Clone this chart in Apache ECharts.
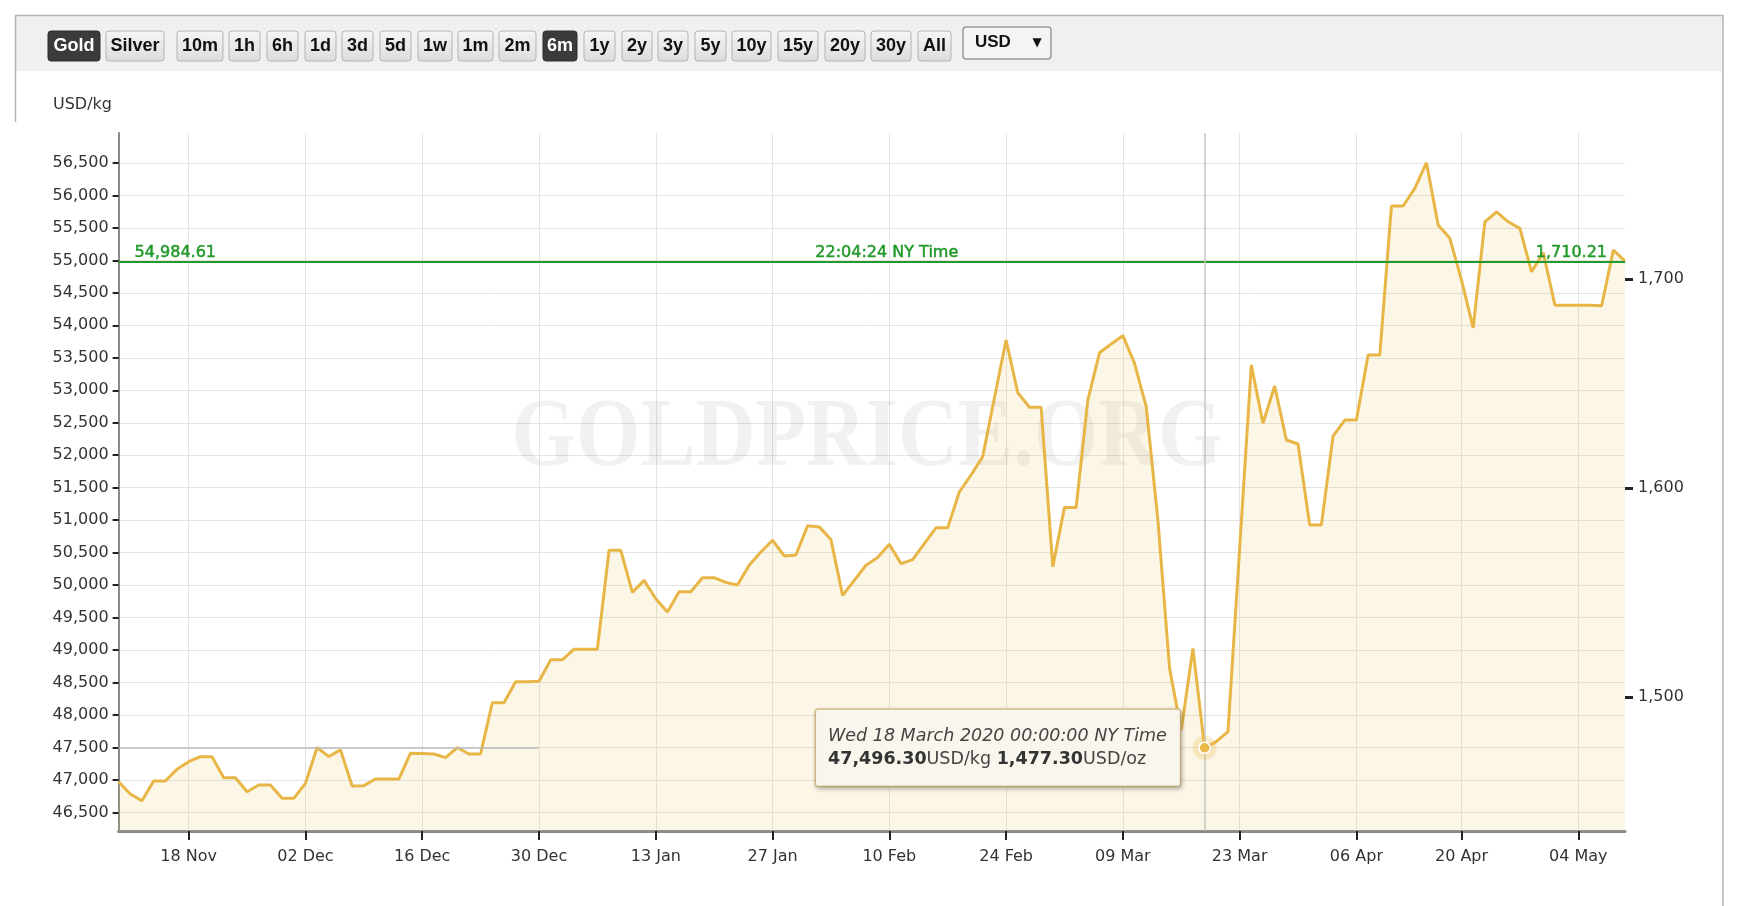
<!DOCTYPE html>
<html>
<head>
<meta charset="utf-8">
<script src="https://cdn.jsdelivr.net/npm/echarts@6/dist/echarts.min.js"></script>
<style>
html,body{margin:0;padding:0;background:#ffffff;}
#chart{width:1738px;height:906px;}
</style>
</head>
<body>
<div id="chart"></div>
<script>
// ---------- DATA ----------
const dates = [
 '2019-11-08','2019-11-11','2019-11-12','2019-11-13','2019-11-14','2019-11-15','2019-11-18','2019-11-19','2019-11-20','2019-11-21','2019-11-22',
 '2019-11-25','2019-11-26','2019-11-27','2019-11-28','2019-11-29','2019-12-02','2019-12-03','2019-12-04','2019-12-05','2019-12-06',
 '2019-12-09','2019-12-10','2019-12-11','2019-12-12','2019-12-13','2019-12-16','2019-12-17','2019-12-18','2019-12-19','2019-12-20',
 '2019-12-23','2019-12-24','2019-12-25','2019-12-26','2019-12-27','2019-12-30','2019-12-31','2020-01-01','2020-01-02','2020-01-03',
 '2020-01-06','2020-01-07','2020-01-08','2020-01-09','2020-01-10','2020-01-13','2020-01-14','2020-01-15','2020-01-16','2020-01-17',
 '2020-01-20','2020-01-21','2020-01-22','2020-01-23','2020-01-24','2020-01-27','2020-01-28','2020-01-29','2020-01-30','2020-01-31',
 '2020-02-03','2020-02-04','2020-02-05','2020-02-06','2020-02-07','2020-02-10','2020-02-11','2020-02-12','2020-02-13','2020-02-14',
 '2020-02-17','2020-02-18','2020-02-19','2020-02-20','2020-02-21','2020-02-24','2020-02-25','2020-02-26','2020-02-27','2020-02-28',
 '2020-03-02','2020-03-03','2020-03-04','2020-03-05','2020-03-06','2020-03-09','2020-03-10','2020-03-11','2020-03-12','2020-03-13',
 '2020-03-16','2020-03-17','2020-03-18','2020-03-19','2020-03-20','2020-03-23','2020-03-24','2020-03-25','2020-03-26','2020-03-27',
 '2020-03-30','2020-03-31','2020-04-01','2020-04-02','2020-04-03','2020-04-06','2020-04-07','2020-04-08','2020-04-09',
 '2020-04-13','2020-04-14','2020-04-15','2020-04-16','2020-04-17','2020-04-20','2020-04-21','2020-04-22','2020-04-23','2020-04-24',
 '2020-04-27','2020-04-28','2020-04-29','2020-04-30','2020-05-01','2020-05-04','2020-05-05','2020-05-06','2020-05-07','2020-05-08'
];
const pricesKg = [
 46974,46784,46682,46984,46984,47164,47282,47359,47359,47036,47036,
 46820,46923,46923,46718,46718,46949,47500,47361,47464,46907,
 46913,47015,47015,47015,47413,47410,47400,47344,47500,47400,
 47400,48190,48190,48513,48513,48520,48850,48850,49014,49014,
 49014,50537,50537,49889,50074,49791,49585,49899,49899,50115,
 50115,50043,50002,50306,50511,50691,50450,50465,50913,50897,
 50702,49843,50074,50306,50424,50630,50331,50393,50640,50882,
 50882,51437,51696,51978,52880,53774,52963,52738,52738,50284,
 51197,51197,52850,53579,53713,53841,53415,52748,51003,48719,
 47770,49027,47496.30,47590,47744,50560,53390,52492,53066,52234,
 52173,50926,50926,52296,52542,52542,53543,53543,55837,
 55837,56109,56504,55544,55339,54697,53962,55594,55748,55594,
 55492,54824,55117,54311,54311,54311,54311,54301,55158,54990
];
const leftTicks = [46500,47000,47500,48000,48500,49000,49500,50000,50500,51000,51500,52000,52500,53000,53500,54000,54500,55000,55500,56000,56500];
const rightTicks = [1500,1600,1700];
const xTickDates = ['2019-11-18','2019-12-02','2019-12-16','2019-12-30','2020-01-13','2020-01-27','2020-02-10','2020-02-24','2020-03-09','2020-03-23','2020-04-06','2020-04-20','2020-05-04'];
const monthShort = ['Jan','Feb','Mar','Apr','May','Jun','Jul','Aug','Sep','Oct','Nov','Dec'];
const spotKg = 54984.61;
const spotOz = 1710.21;
const spotTime = '22:04:24 NY Time';
const hoverDate = '2020-03-18';
const hoverText = 'Wed 18 March 2020 00:00:00 NY Time';
const hoverOz = 1477.30;
const hiddenLineValue = 47500;
const hiddenLineEnd = '2019-12-30';
const unitLabel = 'USD/kg';
const metalButtons = ['Gold','Silver'];
const rangeButtons = ['10m','1h','6h','1d','3d','5d','1w','1m','2m','6m','1y','2y','3y','5y','10y','15y','20y','30y','All'];
const activeButtons = ['Gold','6m'];
const currency = 'USD';

// ---------- LAYOUT (pixels) ----------
const buttonLayout = {
 'Gold':[48,100],'Silver':[106,164],'10m':[177,223],'1h':[229,260],'6h':[267,298],'1d':[305,336],'3d':[342,373],
 '5d':[380,411],'1w':[418,452],'1m':[458,493],'2m':[499,536],'6m':[543,577],'1y':[584,615],'2y':[622,652],
 '3y':[658,688],'5y':[695,726],'10y':[732,771],'15y':[778,818],'20y':[825,865],'30y':[871,911],'All':[918,951]
};

const fmt0 = v => Math.round(v).toLocaleString('en-US');
const fmt2 = v => v.toLocaleString('en-US',{minimumFractionDigits:2,maximumFractionDigits:2});
const tickSet = new Set(xTickDates);
const showTick = (idx, val) => tickSet.has(val);
const hoverIdx = dates.indexOf(hoverDate);

const chart = echarts.init(document.getElementById('chart'), null, {renderer:'canvas'});

const graphics = [];
graphics.push({type:'rect', z:0, shape:{x:16,y:16,width:1706,height:55}, style:{fill:'#f0f0f0'}});
graphics.push({type:'line', z:5, shape:{x1:15,y1:15.5,x2:1723,y2:15.5}, style:{stroke:'#b5b5b5',lineWidth:1.5}});
graphics.push({type:'line', z:5, shape:{x1:15.5,y1:15,x2:15.5,y2:122}, style:{stroke:'#b5b5b5',lineWidth:1.5}});
graphics.push({type:'line', z:5, shape:{x1:1723,y1:15,x2:1723,y2:906}, style:{stroke:'#b5b5b5',lineWidth:1.5}});
metalButtons.concat(rangeButtons).forEach(name => {
  const [x0,x1] = buttonLayout[name];
  const active = activeButtons.includes(name);
  graphics.push({type:'rect', z:5, shape:{x:x0,y:31,width:x1-x0,height:30,r:3},
    style:{fill: active ? '#3b3b3b' : new echarts.graphic.LinearGradient(0,0,0,1,[{offset:0,color:'#f6f6f6'},{offset:1,color:'#dcdcdc'}]),
      stroke: active ? '#2e2e2e' : '#b3b3b3', lineWidth:1}});
  graphics.push({type:'text', z:6, x:(x0+x1)/2, y:46.5,
    style:{text:name, fill: active ? '#ffffff' : '#111111', fontFamily:'Liberation Sans', fontWeight:'bold', fontSize:18, textAlign:'center', textVerticalAlign:'middle'}});
});
graphics.push({type:'rect', z:5, shape:{x:963,y:27,width:88,height:32,r:3}, style:{fill:'#f4f4f4',stroke:'#9a9a9a',lineWidth:1.5}});
graphics.push({type:'text', z:6, x:975, y:42, style:{text:currency, fill:'#111', fontFamily:'Liberation Sans', fontWeight:'bold', fontSize:17, textAlign:'left', textVerticalAlign:'middle'}});
graphics.push({type:'text', z:6, x:1037, y:43, style:{text:'\u25BC', fill:'#111', fontFamily:'DejaVu Sans', fontSize:12, textAlign:'center', textVerticalAlign:'middle'}});
graphics.push({type:'text', z:6, x:53, y:105, style:{text:unitLabel, fill:'#333', fontFamily:'DejaVu Sans', fontSize:16, textAlign:'left', textVerticalAlign:'middle'}});
graphics.push({type:'text', z:1, x:867, y:440, scaleX:0.845, style:{text:'GOLDPRICE.ORG', fill:'rgba(0,0,0,0.055)', fontFamily:'Liberation Serif', fontWeight:'bold', fontSize:98, textAlign:'center', textVerticalAlign:'middle'}});

const green = '#22992a';
const greenLabel = {show:true, color:green, fontFamily:'DejaVu Sans', fontSize:16, textBorderColor:green, textBorderWidth:0.5};

const option = {
  animation:false,
  backgroundColor:'#ffffff',
  textStyle:{fontFamily:'DejaVu Sans'},
  grid:{left:118.6, right:113, top:133, bottom:75, containLabel:false},
  graphic:graphics,
  xAxis:{
    type:'category', data:dates, boundaryGap:false,
    axisLine:{show:true, lineStyle:{color:'#8a8a8a', width:3}},
    axisTick:{show:true, interval:showTick, length:9, lineStyle:{color:'#222', width:2}},
    axisLabel:{interval:showTick, color:'#333', fontSize:16, fontFamily:'DejaVu Sans', margin:18,
      formatter:v => v.slice(8,10)+' '+monthShort[parseInt(v.slice(5,7),10)-1]},
    splitLine:{show:true, interval:showTick, lineStyle:{color:'#e4e4e4', width:1}}
  },
  yAxis:[{
    type:'value', min:46215, max:56961, position:'left',
    axisLine:{show:true, lineStyle:{color:'#8a8a8a', width:2}},
    axisTick:{show:true, customValues:leftTicks, length:6, lineStyle:{color:'#222', width:2}},
    axisLabel:{customValues:leftTicks, color:'#333', fontSize:16, fontFamily:'DejaVu Sans', margin:10, formatter:v => fmt0(v)},
    splitLine:{show:true, lineStyle:{color:'#e4e4e4', width:1}}
  },{
    type:'value', min:1436, max:1770, position:'right',
    axisLine:{show:false},
    axisTick:{show:true, customValues:rightTicks, length:8, lineStyle:{color:'#222', width:3}},
    axisLabel:{customValues:rightTicks, color:'#333', fontSize:16, fontFamily:'DejaVu Sans', margin:13, formatter:v => fmt0(v)},
    splitLine:{show:false}
  }],
  series:[{
    type:'line', data:pricesKg, yAxisIndex:0, showSymbol:false, symbol:'none', z:3,
    lineStyle:{color:'#e8b646', width:3},
    areaStyle:{color:'rgba(236,196,95,0.22)'},
    markLine:{
      symbol:'none', silent:true, animation:false,
      data:[
        {yAxis:spotKg, lineStyle:{color:green, width:2, type:'solid'},
          label:Object.assign({}, greenLabel, {position:'insideStartTop', distance:[16,1], formatter:fmt2(spotKg)})},
        {yAxis:spotKg, lineStyle:{color:green, width:2, type:'solid'},
          label:Object.assign({}, greenLabel, {position:'insideMiddleTop', distance:[0,1], offset:[15,0], formatter:spotTime})},
        {yAxis:spotKg, lineStyle:{color:green, width:2, type:'solid'},
          label:Object.assign({}, greenLabel, {position:'insideEndTop', distance:[18,1], formatter:fmt2(spotOz)})},
        {xAxis:hoverIdx, lineStyle:{color:'#c4c4c4', width:1.5, type:'solid'}, label:{show:false}},
        [{coord:[0, hiddenLineValue], lineStyle:{color:'#bdbdbd', width:1.5, type:'solid'}, label:{show:false}},
         {coord:[dates.indexOf(hiddenLineEnd), hiddenLineValue]}]
      ]
    },
    markPoint:{
      silent:true, animation:false,
      data:[
        {coord:[hoverIdx, pricesKg[hoverIdx]], symbol:'circle', symbolSize:24, itemStyle:{color:'rgba(233,185,74,0.28)'}, label:{show:false}},
        {coord:[hoverIdx, pricesKg[hoverIdx]], symbol:'circle', symbolSize:11,
          itemStyle:{color:'#e9b94a', borderColor:'#ffffff', borderWidth:1.5},
          label:{
            show:true, position:'left', distance:18.5,
            formatter:'{i|'+hoverText+'}\n{b|'+fmt2(pricesKg[hoverIdx])+'}{n|USD/kg }{b|'+fmt2(hoverOz)+'}{n|USD/oz}',
            backgroundColor:'rgba(251,248,238,0.97)', borderColor:'#d6c089', borderWidth:1.5, borderRadius:2,
            padding:[15,13,15,12],
            shadowColor:'rgba(0,0,0,0.22)', shadowBlur:4, shadowOffsetX:1, shadowOffsetY:2,
            rich:{
              i:{fontStyle:'italic', fontSize:17.5, fontFamily:'DejaVu Sans', color:'#444', lineHeight:23, align:'left'},
              b:{fontWeight:'bold', fontSize:17.5, fontFamily:'DejaVu Sans', color:'#333', lineHeight:23, align:'left'},
              n:{fontSize:17.5, fontFamily:'DejaVu Sans', color:'#444', lineHeight:23, align:'left'}
            }
          }}
      ]
    }
  }]
};
chart.setOption(option);
</script>
</body>
</html>
